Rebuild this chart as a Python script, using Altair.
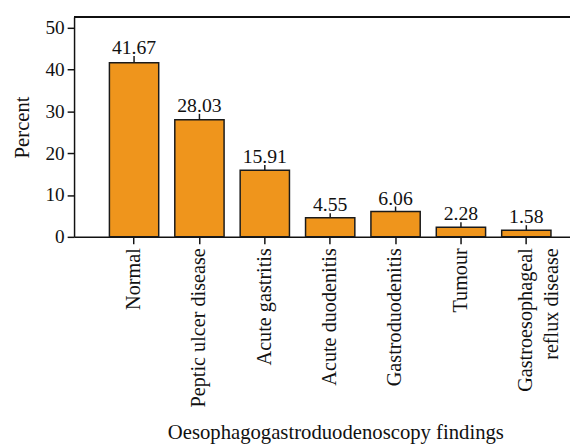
import altair as alt
import pandas as pd

categories = ["Normal", "Peptic ulcer disease", "Acute gastritis", "Acute duodenitis",
              "Gastroduodenitis", "Tumour", "Gastroesophageal reflux disease"]
percent = [41.67, 28.03, 15.91, 4.55, 6.06, 2.28, 1.58]
err = [1.6, 1.4, 1.25, 1.1, 1.2, 1.2, 1.2]
labels = ["41.67", "28.03", "15.91", "4.55", "6.06", "2.28", "1.58"]
y_ticks = [0, 10, 20, 30, 40, 50]

df = pd.DataFrame({"cat": categories, "pct": percent, "err": err, "lab": labels})
df["top"] = df["pct"] + df["err"]

FONT = "Liberation Serif"
W, H = 503, 223

xenc = alt.X("cat:N", sort=categories,
             scale=alt.Scale(paddingInner=0.246, paddingOuter=0.416, align=0.65),
             axis=alt.Axis(title="Oesophagogastroduodenoscopy findings", labelAngle=-90,
                           labelAlign="right", labelBaseline="middle",
                           labelExpr="datum.label == 'Gastroesophageal reflux disease' ? ['Gastroesophageal', 'reflux disease'] : datum.label",
                           labelFont=FONT, labelFontSize=20.5, labelColor="#111", labelLineHeight=26,
                           titleFont=FONT, titleFontSize=21, titleFontWeight="normal", titleColor="#111",
                           titlePadding=15, titleX=265, titleAlign="center",
                           tickSize=7, tickColor="#111", tickWidth=1.5, labelPadding=4,
                           domainColor="#111", domainWidth=1.5))
yscale = alt.Scale(domain=[0, 52.6], nice=False)

bars = alt.Chart(df).mark_bar(color="#EF951C", stroke="#1a1a1a", strokeWidth=1.5).encode(
    x=xenc,
    y=alt.Y("pct:Q", scale=yscale,
            axis=alt.Axis(title="Percent", values=y_ticks, grid=False,
                          labelFont=FONT, labelFontSize=19.5, labelColor="#111", labelPadding=3,
                          titleFont=FONT, titleFontSize=21, titleFontWeight="normal", titleColor="#111",
                          titlePadding=13,
                          tickSize=7, tickColor="#111", tickWidth=1.5,
                          domainColor="#111", domainWidth=1.5)),
)

errs = alt.Chart(df).mark_rule(color="#1a1a1a", strokeWidth=1.5).encode(
    x=alt.X("cat:N", sort=categories),
    y=alt.Y("pct:Q"),
    y2="top:Q",
)

text = alt.Chart(df).mark_text(font=FONT, fontSize=20, baseline="alphabetic", dy=-2, color="#111").encode(
    x=alt.X("cat:N", sort=categories),
    y=alt.Y("top:Q"),
    text="lab:N",
)

topline = alt.Chart(df).mark_rule(color="#111", strokeWidth=1.5).encode(
    x=alt.value(0), x2=alt.value(W), y=alt.value(0)
)

chart = alt.layer(bars, errs, text, topline).properties(
    width=W, height=H,
    autosize=alt.AutoSizeParams(type="none"),
    padding={"left": 67, "top": 6, "right": 0, "bottom": 207},
).configure_view(stroke=None)

chart.save("out.html", embed_options={"renderer": "svg", "actions": False})
